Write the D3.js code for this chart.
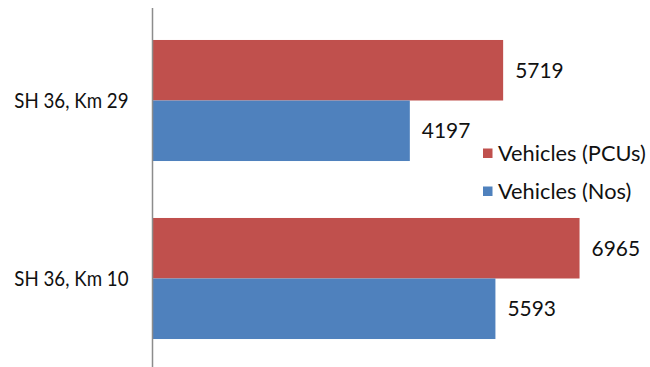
<!DOCTYPE html>
<html>
<head>
<meta charset="utf-8">
<script src="https://cdn.jsdelivr.net/npm/d3@7"></script>
<style>
  html, body { margin: 0; padding: 0; background: #fff; }
  svg { display: block; }
  text { font-family: Lato, "Open Sans", sans-serif; fill: #111; }
</style>
</head>
<body>
<svg id="chart" width="650" height="367"></svg>
<script>
// Traffic volume by count station
const categories = ["SH 36, Km 29", "SH 36, Km 10"];
const seriesNames = ["Vehicles (PCUs)", "Vehicles (Nos)"];
const pcuValues = [5719, 6965];
const nosValues = [4197, 5593];
const seriesColors = ["#C0504D", "#4F81BD"];

const seriesValues = [pcuValues, nosValues];
const rows = categories.map((c, i) => ({
  category: c,
  values: seriesNames.map((s, j) => ({ series: s, value: seriesValues[j][i], color: seriesColors[j] }))
}));

const svg = d3.select("#chart");
const W = 650, H = 367;
const plotLeft = 152.5;
const fontSize = "22px";

// Narrow the glyph run a little so the text sits at a compact width
function condense(sel, k) {
  sel.each(function () {
    const w = this.getComputedTextLength();
    d3.select(this).attr("textLength", w * k).attr("lengthAdjust", "spacingAndGlyphs");
  });
}

const x = d3.scaleLinear().domain([0, 8000]).range([plotLeft, 643]);
const y = d3.scaleBand().domain(categories).range([11.5, 367.5])
  .paddingInner(0.32).paddingOuter(0.16);
const ySub = d3.scaleBand().domain(seriesNames).range([0, y.bandwidth()]);

// Bars
const groups = svg.append("g").selectAll("g")
  .data(rows).join("g")
  .attr("transform", d => `translate(0,${y(d.category)})`);

groups.selectAll("rect")
  .data(d => d.values).join("rect")
  .attr("x", x(0))
  .attr("y", d => ySub(d.series))
  .attr("width", d => x(d.value) - x(0))
  .attr("height", ySub.bandwidth())
  .attr("fill", d => d.color);

// Value labels
groups.selectAll("text.value")
  .data(d => d.values).join("text")
  .attr("class", "value")
  .attr("x", d => x(d.value) + 12)
  .attr("y", d => ySub(d.series) + ySub.bandwidth() / 2)
  .attr("dy", "0.35em")
  .style("font-size", fontSize)
  .text(d => d.value)
  .call(condense, 0.95);

// Category axis
const axis = svg.append("g")
  .attr("transform", `translate(${plotLeft},0)`)
  .call(d3.axisLeft(y).tickSize(0).tickPadding(24));
axis.select(".domain").attr("stroke", "#8c8c8c").attr("stroke-width", 1.5)
  .attr("d", `M0,8V${H}`);
axis.selectAll(".tick text")
  .style("font-size", fontSize)
  .style("font-family", "Lato, 'Open Sans', sans-serif")
  .attr("fill", "#111")
  .call(condense, 0.85);

// Legend
const legend = svg.append("g").attr("transform", "translate(483,153)");
const items = legend.selectAll("g")
  .data(seriesNames.map((s, i) => ({ name: s, color: seriesColors[i] })))
  .join("g")
  .attr("transform", (d, i) => `translate(0,${i * 38})`);
items.append("rect")
  .attr("x", 0).attr("y", -4.5).attr("width", 9.5).attr("height", 9.5)
  .attr("fill", d => d.color);
items.append("text")
  .attr("x", 15).attr("y", 0).attr("dy", "0.35em")
  .style("font-size", fontSize)
  .text(d => d.name)
  .call(condense, 0.99);
</script>
</body>
</html>
